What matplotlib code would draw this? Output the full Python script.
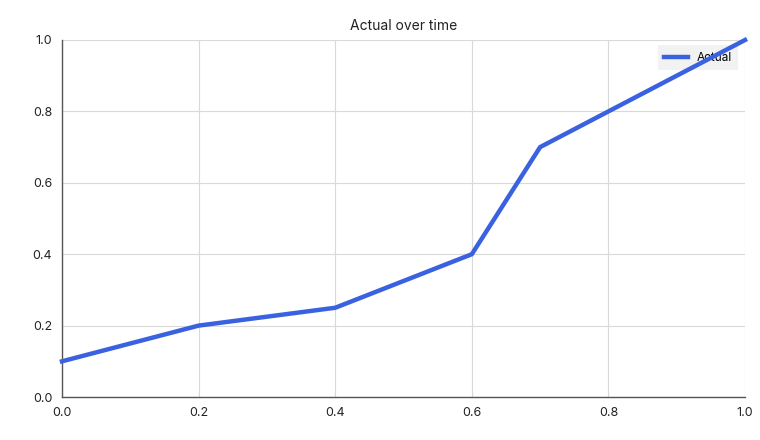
import matplotlib.pyplot as plt

plt.rcParams['font.family'] = ['Inter', 'DejaVu Sans']

# data
x_vals = [0.0, 0.2, 0.4, 0.6, 0.7, 1.0]
actual = [0.1, 0.2, 0.25, 0.4, 0.7, 1.0]
ticks = [0.0, 0.2, 0.4, 0.6, 0.8, 1.0]

fig = plt.figure(figsize=(7.6, 4.4), dpi=100)
ax = fig.add_axes([0.0816, 0.0977, 0.8987, 0.8114])

ax.plot(x_vals, actual, color='#3a62e0', linewidth=3.2, label='Actual',
        solid_joinstyle='miter', zorder=5, clip_on=False)

ax.set_xlim(0, 1)
ax.set_ylim(0, 1)
ax.set_xticks(ticks)
ax.set_yticks(ticks)
ax.set_xticklabels([f'{t:.1f}' for t in ticks])
ax.set_yticklabels([f'{t:.1f}' for t in ticks])
ax.tick_params(length=0, labelsize=9, colors='#222222', pad=7)
ax.grid(True, color='#d9d9d9', linewidth=0.8)
ax.set_axisbelow(True)

for side in ['top', 'right']:
    ax.spines[side].set_visible(False)
for side in ['left', 'bottom']:
    ax.spines[side].set_color('#555555')
    ax.spines[side].set_linewidth(1.0)

ax.set_title('Actual over time', fontsize=10, color='#222222', pad=7)

leg = ax.legend(loc='upper right', fontsize=8.5, frameon=True, fancybox=False,
                handlelength=2.0, handletextpad=0.7, borderpad=0.55,
                borderaxespad=0.3, bbox_to_anchor=(0.995, 0.995))
leg.get_frame().set_facecolor('#f2f2f2')
leg.get_frame().set_edgecolor('none')
leg.get_frame().set_alpha(1)
leg.set_zorder(2)

plt.savefig('out.png', dpi=100)
